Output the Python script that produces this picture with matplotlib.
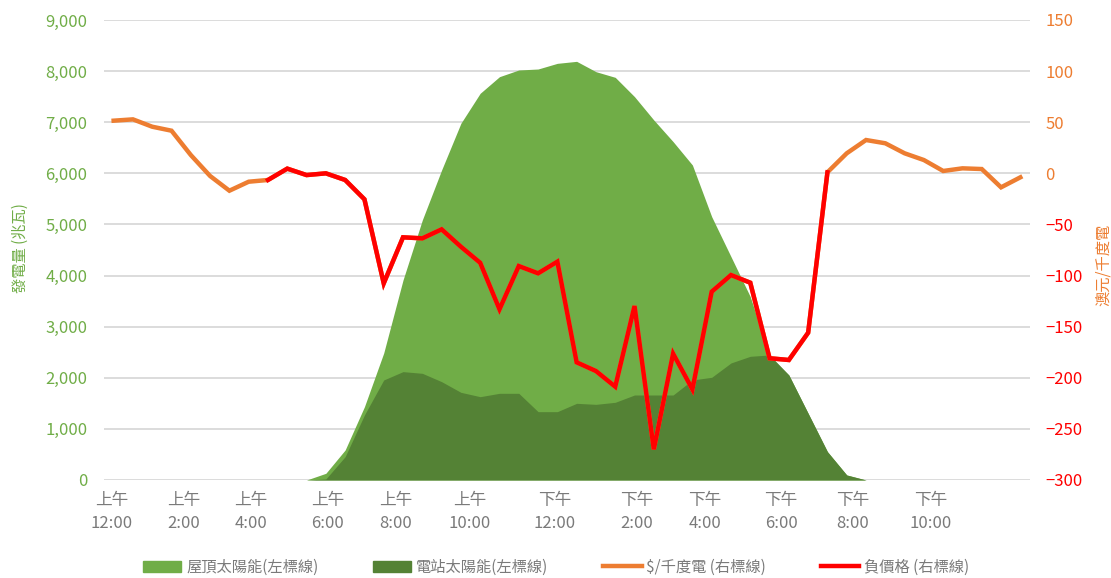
import numpy as np
import matplotlib
matplotlib.use("Agg")
import matplotlib.pyplot as plt
from matplotlib.patches import Patch
from matplotlib.lines import Line2D

plt.rcParams['font.family'] = ['Noto Sans CJK TC', 'DejaVu Sans']

# 半小時一個點, 共48個 (上午12:00 ~ 下午11:30)
slots = np.arange(48)

# 屋頂太陽能 (兆瓦)
rooftop = [0, 0, 0, 0, 0, 0, 0, 0, 0, 0,
           0, 131, 587, 1434, 2485, 3913, 5087, 6065, 6979, 7566,
           7891, 8022, 8041, 8152, 8191, 7989, 7878, 7500, 7043, 6620,
           6163, 5152, 4370, 3587, 2430, 2054, 1304, 554, 98, 0,
           0, 0, 0, 0, 0, 0, 0, 0]

# 電站太陽能 (兆瓦)
utility = [0, 0, 0, 0, 0, 0, 0, 0, 0, 0,
           0, 20, 456, 1272, 1957, 2120, 2087, 1924, 1715, 1630,
           1696, 1696, 1337, 1337, 1500, 1480, 1520, 1663, 1663, 1663,
           1957, 2009, 2290, 2420, 2446, 2054, 1304, 554, 98, 0,
           0, 0, 0, 0, 0, 0, 0, 0]

# 現貨價格 澳元/千度電
price = [51.5, 52.8, 45.6, 41.7, 17.9, -2.6, -17.0, -8.2, -6.5, 4.6,
         -1.7, 0.0, -6.5, -25.4, -107.6, -62.6, -63.6, -54.8, -71.8, -87.5,
         -133.0, -90.7, -97.8, -86.4, -184.9, -193.4, -208.7, -129.8, -270.0, -176.4,
         -211.3, -115.8, -99.5, -107.0, -180.9, -182.6, -155.9, 1.0, 19.6, 32.6,
         29.4, 19.6, 13.0, 2.3, 4.9, 4.2, -13.7, -3.9]

# 負價格時段 (上午4:00 ~ 下午6:30)
neg_start, neg_end = 8, 37
neg_price = [p if neg_start <= i <= neg_end else np.nan for i, p in enumerate(price)]

tick_text = ["上午\n12:00", "上午\n2:00", "上午\n4:00", "上午\n6:00", "上午\n8:00", "上午\n10:00",
             "下午\n12:00", "下午\n2:00", "下午\n4:00", "下午\n6:00", "下午\n8:00", "下午\n10:00"]
tick_pos = [-0.1, 3.65, 7.12, 11.11, 14.64, 18.45, 22.88, 27.13, 30.66, 34.6, 38.33, 42.37]

light_green = '#70AD47'
dark_green = '#548235'
orange = '#ED7D31'
red = '#FF0000'
gray = '#7A7A7A'

fig = plt.figure(figsize=(11.11, 5.78), dpi=100)
ax = fig.add_axes([104 / 1111, 1 - 480 / 578, 926 / 1111, 460 / 578])
ax2 = ax.twinx()

ax.fill_between(slots, rooftop, color=light_green, lw=0)
ax.fill_between(slots, utility, color=dark_green, lw=0)
ax.set_xlim(-0.5, 47.5)
ax.set_ylim(0, 9000)
ax.set_yticks(np.arange(0, 9001, 1000))
ax.set_yticklabels([f"{v:,}" for v in range(0, 9001, 1000)])
ax.yaxis.grid(True, color='#D9D9D9', lw=1.3)
ax.set_axisbelow(True)
ax.tick_params(axis='y', length=0, pad=12, labelsize=12, labelcolor=light_green)
ax.set_xticks(tick_pos)
ax.set_xticklabels(tick_text, linespacing=1.45)
ax.tick_params(axis='x', length=0, pad=9, labelsize=12, labelcolor=gray)
for sp in ax.spines.values():
    sp.set_visible(False)

ax2.plot(slots, price, color=orange, lw=3.2, solid_joinstyle='miter')
ax2.plot(slots, neg_price, color=red, lw=3.2, solid_joinstyle='miter')
ax2.set_ylim(-300, 150)
ax2.set_yticks(np.arange(-300, 151, 50))
ax2.tick_params(axis='y', length=0, pad=11, labelsize=12)
for lab, v in zip(ax2.get_yticklabels(), np.arange(-300, 151, 50)):
    lab.set_color(orange if v >= 0 else red)
for sp in ax2.spines.values():
    sp.set_visible(False)

fig.text(20 / 1111, 1 - 248 / 578, "發電量 (兆瓦)", rotation=90, color=light_green,
         fontsize=11, ha='center', va='center')
fig.text(1103 / 1111, 1 - 265 / 578, "澳元/千度電", rotation=90, color=orange,
         fontsize=11, ha='center', va='center')

handles = [Patch(color=light_green), Patch(color=dark_green),
           Line2D([], [], color=orange, lw=3.2), Line2D([], [], color=red, lw=3.2)]
labels = ["屋頂太陽能(左標線)", "電站太陽能(左標線)", "$/千度電 (右標線)", "負價格 (右標線)"]
fig.legend(handles, labels, loc='center', bbox_to_anchor=(556 / 1111, 1 - 567 / 578), ncol=4,
           frameon=False, fontsize=11, labelcolor=gray, columnspacing=3.6,
           handlelength=2.5, handletextpad=0.3)

fig.savefig("out.png", dpi=100)
